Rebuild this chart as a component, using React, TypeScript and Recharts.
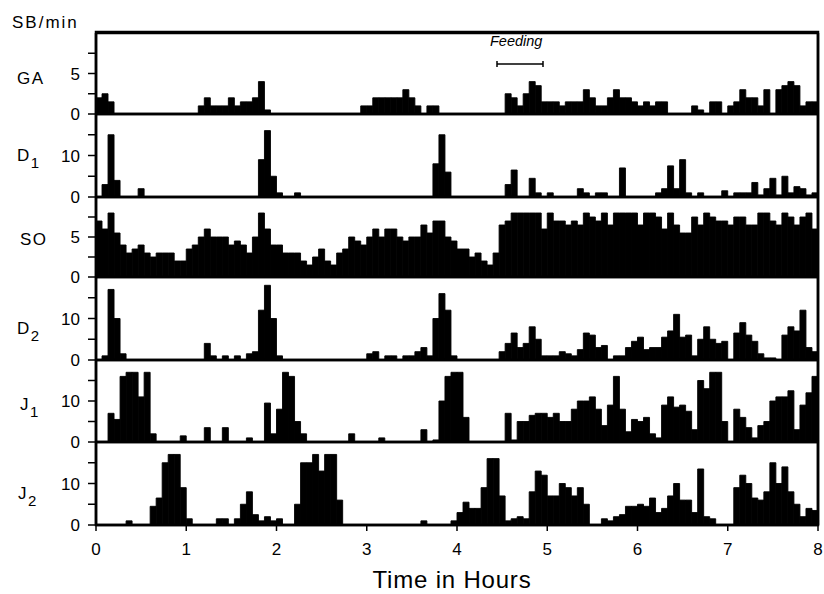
import React from 'react';
import { BarChart, Bar, XAxis, YAxis } from 'recharts';

const FONT = '"Liberation Sans", Arial, Helvetica, sans-serif';

// spike bursts per minute, 4-minute bins over 8 hours (120 bins each)
const BIN_HOURS = 4 / 60;
const hourTicks = [0, 1, 2, 3, 4, 5, 6, 7, 8];
const smallTicks = [0, 2.5, 5, 7.5];
const largeTicks = [0, 5, 10, 15];

const GA = [
  2, 2.5, 1.5, 0, 0, 0, 0, 0, 0, 0,
  0, 0, 0, 0, 0, 0, 0, 1, 2, 1,
  1, 1, 2, 1, 1.5, 1.5, 2, 4, 0.5, 0,
  0, 0, 0, 0, 0, 0, 0, 0, 0, 0,
  0, 0, 0, 0, 1, 1, 2, 2, 2, 2,
  2, 3, 2, 1, 0, 1, 1, 0, 0, 0,
  0, 0, 0, 0, 0, 0, 0, 0, 2.5, 2,
  1, 2.5, 4, 3.5, 1.5, 1.5, 1.5, 1, 1.5, 1.5,
  1.5, 3, 2, 1, 1, 2, 3, 2, 2, 1.5,
  1, 1.5, 1, 1.5, 1.5, 0, 0, 0, 0, 1,
  0.5, 0, 1.5, 1.5, 0, 1, 1.5, 3, 2, 2,
  1, 3, 0, 3, 3.5, 4, 3.5, 1, 1.5, 1.5,
];

const D1 = [
  0, 3, 15, 4, 0, 0, 0, 2, 0, 0,
  0, 0, 0, 0, 0, 0, 0, 0, 0, 0,
  0, 0, 0, 0, 0, 0, 0, 9, 16, 5,
  1, 0, 0, 1, 0, 0, 0, 0, 0, 0,
  0, 0, 0, 0, 0, 0, 0, 0, 0, 0,
  0, 0, 0, 0, 0, 0, 8, 15, 6, 0,
  0, 0, 0, 0, 0, 0, 0, 0, 3, 6.5,
  0, 0, 4.5, 1, 0, 1, 0, 0, 0, 0,
  2, 1, 0, 1, 1, 0, 0, 7, 0, 0,
  0, 0, 0, 1, 2, 7.5, 2, 9, 1, 0,
  1, 0, 0, 0, 1.5, 0, 1, 1, 1, 3.5,
  0.5, 2, 4.5, 0.5, 5, 1, 2.5, 2, 0.5, 1,
];

const SO = [
  7, 6, 8, 5.5, 4, 3, 3.5, 4, 3, 2.5,
  3, 3, 3, 2, 2, 3.5, 4, 5, 6, 5,
  5, 5, 4, 4.5, 4, 3, 5, 8, 6, 4,
  4, 3, 3, 3, 2, 1.5, 2.5, 3.5, 2, 1.5,
  3, 3.5, 5, 4.5, 4, 5, 6, 5, 6, 6,
  5, 4.5, 5, 5, 6.5, 5.5, 7, 7, 5, 4.5,
  3.5, 3.5, 2.5, 3, 2, 1.5, 3, 6.5, 7, 8,
  8, 8, 8, 8, 6, 8, 7, 7, 6.5, 7,
  6.5, 8, 7.5, 7, 8, 6.5, 8, 8, 8, 8,
  6.5, 8, 8, 7.5, 6, 8, 6.5, 5.5, 5.5, 7.5,
  6.5, 8, 7.5, 7, 7, 6.5, 7.5, 7.5, 6.5, 6.5,
  8, 8, 7, 6.5, 8, 7.5, 6.5, 7.5, 8, 6,
];

const D2 = [
  0, 1, 17, 10, 1.5, 0, 0, 0, 0, 0,
  0, 0, 0, 0, 0, 0, 0, 0, 4, 1,
  0, 1, 0, 1, 0, 1.5, 2, 12, 18, 10,
  1, 0, 0, 0, 0, 0, 0, 0, 0, 0,
  0, 0, 0, 0, 0, 1.5, 2, 0, 1, 1,
  0, 1, 1, 2, 3, 1, 10, 16, 12, 1,
  0, 0, 0, 0, 0, 0, 0, 2, 4, 6.5,
  3, 4, 8, 5, 1, 1, 1, 2, 1.5, 1,
  2.5, 6.5, 6, 3, 3.5, 0, 1, 1, 3, 4.5,
  5.5, 2.5, 3, 3, 5.5, 7, 11, 5.5, 6, 1,
  5, 8, 5, 4, 4.5, 0, 6.5, 9, 6, 4.5,
  1.5, 0.5, 0.5, 0, 6, 8, 7, 12, 3, 2,
];

const J1 = [
  0, 0, 7, 5.5, 16, 17, 17, 11, 17, 2,
  0, 0, 0, 0, 1.5, 0, 0, 0, 3.5, 0,
  0, 3.5, 0, 0, 0, 1, 0, 0, 9.5, 2,
  8, 17, 16, 5, 2, 0, 0, 0, 0, 0,
  0, 0, 2, 0, 0, 0, 0, 1, 0, 0,
  0, 0, 0, 0, 3, 0, 0.5, 10, 16, 17,
  17, 6, 0, 0, 0, 0, 0, 0, 7, 0.5,
  5, 5, 6.5, 7, 7, 6, 7, 5, 5, 8,
  10, 10, 11, 8, 4, 9, 16, 8, 2.5, 5.5,
  5, 6, 2, 1, 9, 11, 8.5, 9, 7.5, 3,
  15, 13, 17, 17, 5, 0, 8, 6, 3.5, 1,
  4, 5, 10, 11, 11, 12.5, 3, 9, 12, 16,
];

const J2 = [
  0, 0, 0, 0, 0, 1, 0, 0, 0, 4.5,
  6.5, 15, 17, 17, 9, 1.5, 0, 0, 0, 0,
  1.5, 1.5, 0, 1.5, 5, 8, 2.5, 1, 2, 1,
  1.5, 0, 0, 5, 15, 15, 17, 13, 17, 17,
  6, 0, 0, 0, 0, 0, 0, 0, 0, 0,
  0, 0, 0, 0, 1, 0, 0, 0, 0, 1,
  3, 5.5, 4, 4, 9, 16, 16, 7, 1, 1.5,
  2, 1.5, 8, 13, 12, 7, 7, 10, 9, 7,
  9, 5, 0, 0, 1.5, 1, 2, 2.5, 4.5, 4.5,
  5, 4.5, 6.5, 3, 4, 7, 10, 6, 6, 3,
  13.5, 2, 1.5, 0, 0, 0, 9, 12, 10, 6.5,
  6, 8, 15, 10, 14, 8, 5, 2, 4, 3.5,
];

const panels = [
  { name: 'GA', sub: '', values: GA, yMax: 10, ticks: smallTicks, labeled: [0, 5], top: 32, bottom: 114, lx: 17, ly: 70 },
  { name: 'D', sub: '1', values: D1, yMax: 20, ticks: largeTicks, labeled: [0, 10], top: 114, bottom: 197, lx: 17, ly: 147 },
  { name: 'SO', sub: '', values: SO, yMax: 10, ticks: smallTicks, labeled: [0, 5], top: 197, bottom: 277, lx: 20, ly: 231 },
  { name: 'D', sub: '2', values: D2, yMax: 20, ticks: largeTicks, labeled: [0, 10], top: 277, bottom: 360, lx: 17, ly: 320 },
  { name: 'J', sub: '1', values: J1, yMax: 20, ticks: largeTicks, labeled: [0, 10], top: 360, bottom: 442, lx: 20, ly: 396 },
  { name: 'J', sub: '2', values: J2, yMax: 20, ticks: largeTicks, labeled: [0, 10], top: 442, bottom: 525, lx: 18, ly: 485 },
];

const PLOT_LEFT = 96;
const PLOT_RIGHT = 818;

const makeTick = (labeled: number[]) => (props: any) => {
  const { x, y, payload } = props;
  if (!labeled.includes(payload.value)) return <g />;
  return (
    <text x={x} y={y} dy={6} textAnchor="end" fontSize={17} fontFamily={FONT} fill="#000">
      {payload.value}
    </text>
  );
};

function Panel({ p, first, last }: { p: (typeof panels)[number]; first: boolean; last: boolean }) {
  const h = p.bottom - p.top;
  const data = p.values.map((v, i) => ({ t: (i + 0.5) * BIN_HOURS, v }));
  const axisH = last ? 40 : 1;
  return (
    <div style={{ position: 'absolute', left: 0, top: p.top - 12 }}>
      <BarChart
        width={824}
        height={h + 12 + (last ? axisH : 12)}
        data={data}
        margin={{ top: 12, right: 0, bottom: last ? 0 : 11, left: 0 }}
        barGap={0}
      >
        <XAxis
          dataKey="t"
          type="number"
          domain={[0, 8]}
          ticks={hourTicks}
          interval={0}
          allowDataOverflow
          height={axisH}
          axisLine={{ stroke: '#000', strokeWidth: 2.5 }}
          tickLine={last ? { stroke: '#000', strokeWidth: 1.5 } : false}
          tickSize={6}
          tickMargin={12}
          tick={last ? { fontSize: 17, fontFamily: FONT, fill: '#000', stroke: 'none' } : false}
        />
        {first && (
          <XAxis
            xAxisId="frameTop"
            orientation="top"
            dataKey="t"
            type="number"
            domain={[0, 8]}
            allowDataOverflow
            height={1}
            axisLine={{ stroke: '#000', strokeWidth: 2.5 }}
            tick={false}
            tickLine={false}
          />
        )}
        <YAxis
          width={PLOT_LEFT}
          domain={[0, p.yMax]}
          ticks={p.ticks}
          interval={0}
          allowDataOverflow
          axisLine={{ stroke: '#000', strokeWidth: 2.5 }}
          tickLine={{ stroke: '#000', strokeWidth: 1.5 }}
          tickSize={8}
          tickMargin={8}
          tick={makeTick(p.labeled)}
        />
        <YAxis
          yAxisId="frameRight"
          orientation="right"
          width={824 - PLOT_RIGHT}
          domain={[0, p.yMax]}
          axisLine={{ stroke: '#000', strokeWidth: 2.5 }}
          tick={false}
          tickLine={false}
        />
        <Bar dataKey="v" fill="#000" stroke="#000" strokeWidth={0.9} barSize={6} isAnimationActive={false} />
      </BarChart>
    </div>
  );
}

export default function App() {
  const frameTop = panels[0].top;
  const frameBottom = panels[panels.length - 1].bottom;
  const frameW = PLOT_RIGHT - PLOT_LEFT;
  return (
    <div
      style={{
        position: 'absolute',
        left: 0,
        top: 0,
        width: 824,
        height: 594,
        background: '#fff',
        fontFamily: FONT,
        color: '#000',
      }}
    >
      <div style={{ position: 'absolute', left: 12, top: 14, fontSize: 17, lineHeight: 1, letterSpacing: 2 }}>SB/min</div>
      {panels.map((p, i) => (
        <Panel key={i} p={p} first={i === 0} last={i === panels.length - 1} />
      ))}
      {/* outer frame and panel separators */}
      <svg
        style={{ position: 'absolute', left: 0, top: 0, zIndex: 5, pointerEvents: 'none' }}
        width={824}
        height={594}
      >
        <rect x={PLOT_LEFT} y={frameTop} width={frameW} height={frameBottom - frameTop} fill="none" stroke="#000" strokeWidth={2.5} />
        {panels.slice(0, -1).map((p, i) => (
          <line key={i} x1={PLOT_LEFT} x2={PLOT_RIGHT} y1={p.bottom} y2={p.bottom} stroke="#000" strokeWidth={2.5} />
        ))}
      </svg>
      {panels.map((p, i) => (
        <div
          key={'l' + i}
          style={{ position: 'absolute', left: p.lx, top: p.ly, fontSize: 17, lineHeight: 1, letterSpacing: 1.5, whiteSpace: 'nowrap' }}
        >
          {p.name}
          {p.sub && <span style={{ fontSize: 15, position: 'relative', top: 7, letterSpacing: 0 }}>{p.sub}</span>}
        </div>
      ))}
      <div style={{ position: 'absolute', left: 490, top: 34, fontSize: 14.5, fontStyle: 'italic', lineHeight: 1 }}>Feeding</div>
      <svg style={{ position: 'absolute', left: 490, top: 56 }} width={60} height={16}>
        <line x1={7} y1={8} x2={53} y2={8} stroke="#000" strokeWidth={1.5} />
        <line x1={7} y1={5} x2={7} y2={11} stroke="#000" strokeWidth={1.5} />
        <line x1={53} y1={5} x2={53} y2={11} stroke="#000" strokeWidth={1.5} />
      </svg>
      <div
        style={{
          position: 'absolute',
          left: 452,
          top: 568,
          transform: 'translateX(-50%)',
          fontSize: 24,
          lineHeight: 1,
          letterSpacing: 0.8,
          whiteSpace: 'nowrap',
        }}
      >
        Time in Hours
      </div>
    </div>
  );
}
